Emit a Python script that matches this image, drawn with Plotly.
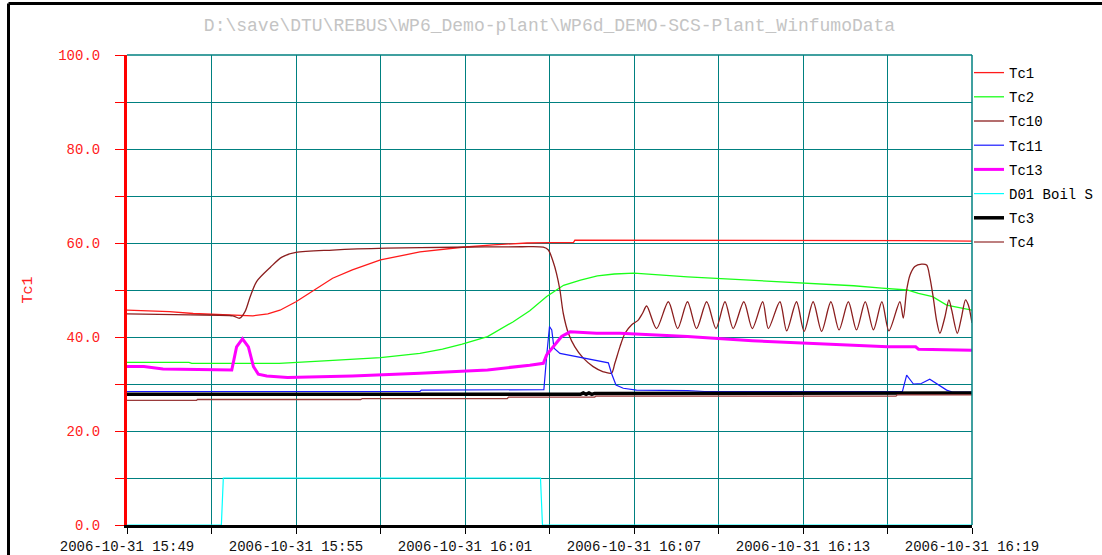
import plotly.graph_objects as go
import pandas as pd

# ---------------- data (minutes after 2006-10-31 15:49) ----------------
START = "2006-10-31 15:49:00"

tc1_t = [0, 1.5, 2.35, 3.4, 4.0, 4.47, 5.0, 5.43, 6.0, 6.7, 7.3, 8.0, 9.0, 10.4, 11.9, 13.0, 14.2,
         15.0, 15.85, 15.9, 20.0, 25.0, 28.0, 30.0]
tc1_v = [45.7, 45.4, 45.0, 44.7, 44.6, 44.5, 44.9, 45.7, 47.5, 50.2, 52.5, 54.3, 56.4, 58.1, 59.1, 59.6, 60.0,
         60.1, 60.1, 60.6, 60.6, 60.5, 60.5, 60.4]

tc2_t = [0, 2.2, 2.3, 5.4, 7.0, 9.0, 10.4, 11.2, 11.9, 12.8, 13.7, 14.3, 14.9, 15.5, 16.1, 16.7, 17.3, 18.0,
         19.9, 22.2, 24.0, 25.8, 26.8, 27.7, 28.1, 28.6, 29.1, 29.6, 30.0]
tc2_v = [34.6, 34.6, 34.4, 34.4, 34.9, 35.6, 36.5, 37.4, 38.5, 40.1, 43.2, 45.6, 48.6, 51.0, 52.1, 53.0, 53.4, 53.6,
         52.8, 52.1, 51.6, 50.9, 50.4, 50.0, 49.3, 48.6, 46.8, 46.1, 45.7]

tc10_t = [0, 2.24, 3.76, 4.0, 4.19, 4.37, 4.6, 5.1, 5.5, 6.0, 7.3, 9.2, 11.6, 14.0, 14.78, 14.96, 15.13, 15.25,
          15.37, 15.49, 15.67, 15.9, 16.2, 16.55, 16.91, 17.2, 17.32, 17.5, 17.68, 17.92, 18.15, 18.3, 18.45,
          18.80, 19.22, 19.55, 19.90, 20.22, 20.58, 20.91, 21.23, 21.52, 21.90, 22.20, 22.57, 22.77, 23.18,
          23.42, 23.77, 24.04, 24.36, 24.66, 24.99, 25.28, 25.61, 25.90, 26.21, 26.50, 26.80, 27.05, 27.44,
          27.56, 27.68, 27.80, 27.97, 28.21, 28.39, 28.50, 28.62, 28.74, 28.86, 29.04, 29.18, 29.28, 29.48,
          29.63, 29.77, 29.87, 30.0]
tc10_v = [44.9, 44.7, 44.5, 44.0, 45.4, 48.5, 51.8, 54.9, 57.0, 58.0, 58.5, 58.9, 59.1, 59.2, 59.1, 58.5, 56.0, 53.5,
          50.0, 45.0, 40.8, 37.9, 35.5, 33.7, 32.6, 32.3, 34.4, 37.9, 40.8, 42.6, 43.6, 45.0, 46.6,
          41.8, 47.5, 41.8, 47.5, 41.8, 47.5, 41.8, 47.5, 41.8, 47.5, 41.8, 47.5, 41.8, 47.5,
          41.3, 47.5, 41.2, 47.5, 41.2, 47.5, 41.5, 47.5, 41.5, 47.5, 41.5, 47.5, 41.3, 47.5,
          44.0, 50.0, 53.2, 55.0, 55.5, 55.3, 52.8, 48.6, 43.6, 40.8, 44.3, 47.9, 45.7, 40.8,
          44.3, 47.9, 46.8, 43.0]

tc11_t = [0, 10.4, 10.45, 14.8, 14.9, 15.0, 15.08, 15.16, 15.37, 16.08, 16.67, 17.09, 17.2, 17.36, 17.62, 18.09,
          19.9, 20.5, 27.53, 27.68, 27.92, 28.2, 28.5, 28.74, 29.1, 29.3, 30.0]
tc11_v = [28.4, 28.4, 28.7, 28.8, 36.0, 42.2, 41.5, 37.6, 36.5, 35.7, 35.1, 34.5, 32.3, 29.8, 29.1, 28.7,
          28.6, 28.4, 28.4, 31.9, 30.0, 30.1, 31.0, 30.1, 28.7, 28.3, 28.3]

tc13_t = [0, 0.6, 1.28, 3.4, 3.72, 3.89, 4.1, 4.31, 4.49, 4.66, 4.96, 5.7, 8.0, 10.4, 12.8, 14.3, 14.78, 14.9,
          15.13, 15.43, 15.73, 16.67, 17.5, 19.9, 22.2, 24.6, 27.0, 28.0, 28.1, 30.0]
tc13_v = [33.7, 33.7, 33.2, 33.0, 33.0, 37.9, 39.6, 37.9, 33.7, 32.1, 31.7, 31.4, 31.7, 32.3, 33.0, 34.0, 34.4, 36.2,
          37.9, 40.1, 41.1, 40.8, 40.8, 40.1, 39.2, 38.5, 37.9, 37.9, 37.4, 37.2]

d01_t = [0, 3.35, 3.42, 14.68, 14.75, 30.0]
d01_v = [0, 0, 10, 10, 0, 0]

tc3_t = [0, 16.1, 16.2, 16.3, 16.4, 16.5, 16.6, 30.0]
tc3_v = [27.8, 27.8, 28.1, 27.8, 28.1, 27.8, 28.0, 28.1]

tc4_t = [0, 2.47, 2.5, 8.3, 8.35, 13.5, 13.55, 16.6, 16.65, 27.3, 27.35, 30.0]
tc4_v = [26.5, 26.5, 26.7, 26.7, 26.9, 26.9, 27.2, 27.2, 27.4, 27.4, 27.7, 27.7]

series_names = ["Tc1", "Tc2", "Tc10", "Tc11", "Tc13", "D01 Boil S", "Tc3", "Tc4"]
series_t = [tc1_t, tc2_t, tc10_t, tc11_t, tc13_t, d01_t, tc3_t, tc4_t]
series_v = [tc1_v, tc2_v, tc10_v, tc11_v, tc13_v, d01_v, tc3_v, tc4_v]

tick_minutes = list(range(0, 31, 3))
title_text = "D:\\save\\DTU\\REBUS\\WP6_Demo-plant\\WP6d_DEMO-SCS-Plant_WinfumoData"

# ---------------- styles ----------------
colors = ["#ff1a1a", "#1aff1a", "#8b1e1e", "#1a1aff", "#ff00ff", "#00ffff", "#000000", "#9a3a3a"]
widths = [1.3, 1.3, 1.3, 1.2, 3.0, 1.2, 3.5, 1.3]
shapes_ = ["linear", "linear", "spline", "linear", "linear", "linear", "linear", "linear"]

start = pd.Timestamp(START)


def to_time(mins):
    return start + pd.to_timedelta(pd.Series(mins, dtype=float), unit="min")


fig = go.Figure()
for i, (name, t, v) in enumerate(zip(series_names, series_t, series_v)):
    fig.add_trace(go.Scatter(
        x=to_time(t), y=v, name=name, mode="lines",
        line=dict(color=colors[i], width=widths[i], shape=shapes_[i], smoothing=0.8),
        legendgroup=name,
    ))

tickvals_x = list(to_time(tick_minutes))
ticktext_x = [tv.strftime("%Y-%m-%d %H:%M") if k % 2 == 0 else "" for k, tv in enumerate(tickvals_x)]
tickvals_y = list(range(0, 101, 10))
ticktext_y = [f"{v:.1f}" if v % 20 == 0 else "" for v in tickvals_y]

mono = "Liberation Mono"
teal = "#008080"
W, H = 1102, 555

fig.update_layout(
    template="none",
    width=W, height=H, autosize=False,
    margin=dict(l=127, r=130, t=55, b=30, pad=0, autoexpand=False),
    paper_bgcolor="white", plot_bgcolor="white",
    title=dict(text=title_text, x=0.5, xref="paper", xanchor="center",
               y=1 - 25 / H, yref="container", yanchor="middle",
               font=dict(family=mono, size=18, color="#c4c4c4")),
    showlegend=True,
    legend=dict(xref="container", yref="container",
                x=969 / W, xanchor="left", y=1 - 57 / H, yanchor="top",
                font=dict(family=mono, size=14, color="black"),
                bgcolor="rgba(0,0,0,0)", borderwidth=0, tracegroupgap=3, traceorder="grouped"),
    xaxis=dict(type="date", range=[tickvals_x[0], tickvals_x[-1]], automargin=False,
               tickmode="array", tickvals=tickvals_x, ticktext=ticktext_x,
               showgrid=True, gridcolor=teal, gridwidth=1,
               showline=True, linecolor="black", linewidth=3,
               ticks="outside", ticklen=6, tickcolor="black", tickwidth=1,
               tickfont=dict(family=mono, size=14, color="#111111"),
               zeroline=False),
    yaxis=dict(range=[0, 100], automargin=False, tickmode="array", tickvals=tickvals_y, ticktext=ticktext_y,
               showgrid=True, gridcolor=teal, gridwidth=1,
               showline=True, linecolor="#ff0000", linewidth=3,
               ticks="outside", ticklen=9, tickcolor="#ff0000", tickwidth=1,
               ticklabelstandoff=12,
               tickfont=dict(family=mono, size=14, color="#ff2020"),
               title=dict(text="Tc1", font=dict(family=mono, size=15, color="#ff2020"), standoff=22),
               zeroline=False),
)

# plot frame (teal top/right edges) and outer black frame
fig.add_shape(type="line", xref="paper", yref="paper", x0=0, x1=1, y0=1, y1=1,
              line=dict(color=teal, width=1.5))
fig.add_shape(type="line", xref="paper", yref="paper", x0=1, x1=1, y0=0, y1=1,
              line=dict(color=teal, width=1.5))
fl, ft, fb, fr = (8.5 - 127) / 845, (525 - 3.5) / 470, (525 - 556) / 470, (1103 - 127) / 845
fig.add_shape(type="line", xref="paper", yref="paper", x0=fl, x1=fl, y0=fb, y1=ft,
              line=dict(color="black", width=3))
fig.add_shape(type="line", xref="paper", yref="paper", x0=fl, x1=fr, y0=ft, y1=ft,
              line=dict(color="black", width=3))

page_fix = (
    "document.documentElement.style.margin='0';"
    "document.body.style.margin='0';document.body.style.padding='0';"
    "document.documentElement.style.overflow='hidden';document.body.style.overflow='hidden';"
)

fig.write_html("out.html", post_script=page_fix, config={"displayModeBar": False})
